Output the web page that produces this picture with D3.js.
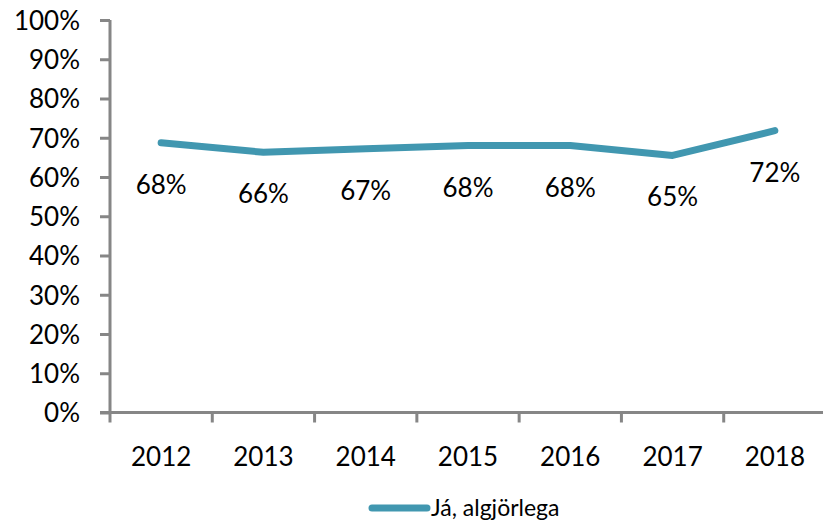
<!DOCTYPE html>
<html>
<head>
<meta charset="utf-8">
<script src="https://cdn.jsdelivr.net/npm/d3@7"></script>
<style>
  body { margin: 0; background: #fff; }
  text { font-family: Lato, "Open Sans", sans-serif; fill: #000; }
</style>
</head>
<body>
<div id="chart-area"></div>
<script>
const WIDTH = 823;
const HEIGHT = 523;

const years = ['2012', '2013', '2014', '2015', '2016', '2017', '2018'];
const values = [0.687, 0.663, 0.672, 0.68, 0.68, 0.655, 0.718];
const labels = ['68%', '66%', '67%', '68%', '68%', '65%', '72%'];
const yTicks = [0, 0.1, 0.2, 0.3, 0.4, 0.5, 0.6, 0.7, 0.8, 0.9, 1];
const seriesName = 'Já, algjörlega';
const COLOR = '#4197b0';

const svg = d3.select('#chart-area').append('svg')
  .attr('width', WIDTH)
  .attr('height', HEIGHT);

const scaleX = d3.scaleBand()
  .domain(years)
  .range([110, 826]);

const scaleY = d3.scaleLinear()
  .domain([0, 1])
  .range([412.5, 20]);

// y axis
const yAxis = svg.append('g')
  .attr('transform', 'translate(110, 0)')
  .call(d3.axisLeft(scaleY).tickValues(yTicks).tickFormat(d3.format('.0%')).tickSize(10).tickPadding(20));
yAxis.selectAll('line, path').attr('stroke', '#868686').attr('stroke-width', 3);
yAxis.select('path').attr('d', `M0,${scaleY(1)}V${scaleY(0)}`);
yAxis.selectAll('text').attr('font-size', 26).attr('dy', '0.36em').style('font-family', 'Lato, sans-serif');

// x axis with ticks between categories
const xAxis = svg.append('g')
  .attr('transform', `translate(0, ${scaleY(0)})`);
xAxis.append('line')
  .attr('x1', 100).attr('x2', WIDTH)
  .attr('stroke', '#868686').attr('stroke-width', 3);
xAxis.selectAll('.tick')
  .data(years)
  .enter().append('line')
  .attr('x1', d => scaleX(d)).attr('x2', d => scaleX(d))
  .attr('y1', 0).attr('y2', 10)
  .attr('stroke', '#868686').attr('stroke-width', 3);
xAxis.selectAll('text')
  .data(years)
  .enter().append('text')
  .attr('x', d => scaleX(d) + scaleX.bandwidth() / 2)
  .attr('y', 53)
  .attr('text-anchor', 'middle')
  .attr('font-size', 26)
  .text(d => d);

// line
const line = d3.line()
  .x((d, i) => scaleX(years[i]) + scaleX.bandwidth() / 2)
  .y(d => scaleY(d));
svg.append('path')
  .datum(values)
  .attr('d', line)
  .attr('fill', 'none')
  .attr('stroke', COLOR)
  .attr('stroke-width', 7)
  .attr('stroke-linecap', 'round')
  .attr('stroke-linejoin', 'round');

// data labels
svg.selectAll('.lbl')
  .data(values)
  .enter().append('text')
  .attr('class', 'lbl')
  .attr('x', (d, i) => scaleX(years[i]) + scaleX.bandwidth() / 2)
  .attr('y', d => scaleY(d) + 51)
  .attr('text-anchor', 'middle')
  .attr('font-size', 26)
  .text((d, i) => labels[i]);

// legend
const legend = svg.append('g');
legend.append('line')
  .attr('x1', 372).attr('x2', 427)
  .attr('y1', 508).attr('y2', 508)
  .attr('stroke', COLOR).attr('stroke-width', 7)
  .attr('stroke-linecap', 'round');
legend.append('text')
  .attr('x', 431)
  .attr('y', 516)
  .attr('font-size', 23)
  .text(seriesName);
</script>
</body>
</html>
